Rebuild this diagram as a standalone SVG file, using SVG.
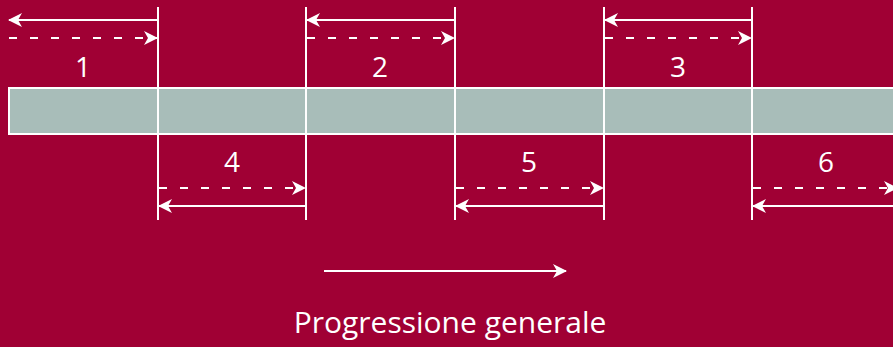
<svg xmlns="http://www.w3.org/2000/svg" width="893" height="347" viewBox="0 0 893 347">
<defs>
<marker id="ah" viewBox="0 0 14 14" refX="13" refY="7" markerWidth="14" markerHeight="14" markerUnits="userSpaceOnUse" orient="auto-start-reverse">
<path d="M0,0 L14,7 L0,14 L4,7 Z" fill="#fff"/>
</marker>
<style>
.sol{stroke:#fff;stroke-width:2;fill:none}
.dash{stroke:#fff;stroke-width:2;fill:none;stroke-dasharray:8 13}
.vl{stroke:#fff;stroke-width:2}
.lab{font-family:"Open Sans","Noto Sans",sans-serif;font-size:28px;fill:#fff;text-anchor:middle}
</style>
</defs>
<rect width="893" height="347" fill="#A00034"/>
<g id="bar">
<rect x="9" y="88" width="890" height="46" fill="#A8BDB9" stroke="#fff" stroke-width="2"/>
</g>
<g id="dividers">
<line class="vl" x1="158" y1="7" x2="158" y2="220"/>
<line class="vl" x1="306" y1="7" x2="306" y2="220"/>
<line class="vl" x1="455" y1="7" x2="455" y2="220"/>
<line class="vl" x1="604" y1="7" x2="604" y2="220"/>
<line class="vl" x1="752" y1="7" x2="752" y2="220"/>
</g>
<g id="connectors">
<line class="sol" x1="157" y1="20" x2="9" y2="20" marker-end="url(#ah)"/>
<line class="dash" x1="9" y1="38" x2="157" y2="38" marker-end="url(#ah)"/>
<line class="sol" x1="454" y1="20" x2="307" y2="20" marker-end="url(#ah)"/>
<line class="dash" x1="307" y1="38" x2="454" y2="38" marker-end="url(#ah)"/>
<line class="sol" x1="751" y1="20" x2="605" y2="20" marker-end="url(#ah)"/>
<line class="dash" x1="605" y1="38" x2="751" y2="38" marker-end="url(#ah)"/>
<line class="dash" x1="159" y1="188" x2="305" y2="188" marker-end="url(#ah)"/>
<line class="sol" x1="305" y1="206" x2="159" y2="206" marker-end="url(#ah)"/>
<line class="dash" x1="456" y1="188" x2="603" y2="188" marker-end="url(#ah)"/>
<line class="sol" x1="603" y1="206" x2="456" y2="206" marker-end="url(#ah)"/>
<line class="dash" x1="753" y1="188" x2="897" y2="188" marker-end="url(#ah)"/>
<line class="sol" x1="897" y1="206" x2="753" y2="206" marker-end="url(#ah)"/>
<line class="sol" x1="324" y1="271" x2="566" y2="271" marker-end="url(#ah)"/>
</g>
<g id="n1"><text class="lab" x="83" y="77">1</text></g>
<g id="n2"><text class="lab" x="380" y="77">2</text></g>
<g id="n3"><text class="lab" x="678" y="77">3</text></g>
<g id="n4"><text class="lab" x="232" y="172">4</text></g>
<g id="n5"><text class="lab" x="529" y="172">5</text></g>
<g id="n6"><text class="lab" x="826" y="172">6</text></g>
<g id="caption"><text class="lab" x="450" y="333" style="font-size:30px">Progressione generale</text></g>
</svg>
